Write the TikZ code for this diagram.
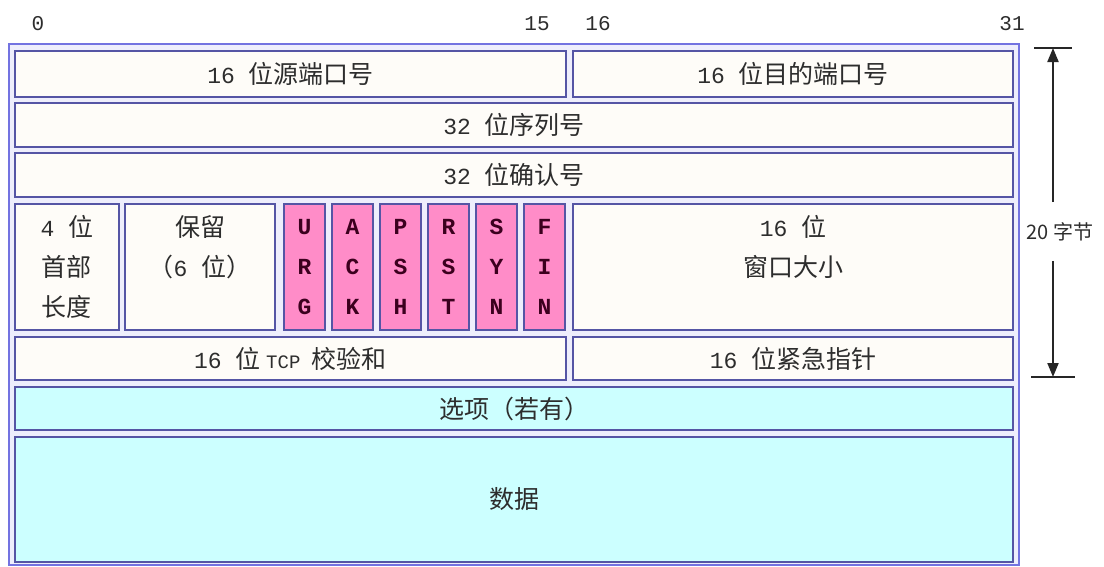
\documentclass[tikz,border=0pt]{standalone}
\usepackage{fontspec}
\setmainfont{Noto Sans CJK SC}
\newfontfamily\codefont{Liberation Mono}
\definecolor{frameblue}{RGB}{115,115,225}
\definecolor{framefill}{RGB}{238,238,252}
\definecolor{fieldedge}{RGB}{85,85,165}
\definecolor{fieldwhite}{RGB}{254,252,248}
\definecolor{flagpink}{RGB}{255,140,200}
\definecolor{flagink}{RGB}{60,0,30}
\definecolor{optcyan}{RGB}{204,255,255}
\definecolor{inkgray}{RGB}{45,45,45}
\usetikzlibrary{arrows.meta, positioning}
\newcommand{\dg}[1]{{\codefont\fontsize{23}{40}\selectfont #1}}
\tikzset{
  hdrframe/.style={draw=frameblue, fill=framefill, line width=2pt, inner sep=0pt},
  field/.style={draw=fieldedge, fill=fieldwhite, line width=1.8pt, inner sep=0pt, text=inkgray, align=center, font=\fontsize{25}{40}\selectfont},
  flagfield/.style={field, fill=flagpink, text=flagink, font=\codefont\bfseries\fontsize{23}{40}\selectfont, minimum width=41pt, minimum height=126pt},
  optfield/.style={field, fill=optcyan},
  bitlabel/.style={text=inkgray, font=\codefont\fontsize{21}{24}\selectfont},
  sizearrow/.style={-{Triangle[length=14pt,width=11pt]}, line width=2pt, black!85},
  sizebar/.style={line width=2pt, black!85},
}
\begin{document}
\begin{tikzpicture}[x=1pt, y=-1pt]
  \useasboundingbox (0,0) rectangle (1104,566);
  \node[hdrframe, minimum width=1010pt, minimum height=521pt] (hdr) at (514,304.5) {};
  \node[bitlabel] (b0) at (38,24) {0};
  \node[bitlabel] (b15) at (537,24) {15};
  \node[bitlabel] (b16) at (598,24) {16};
  \node[bitlabel] (b31) at (1012,24) {31};
  \node[field, minimum width=551pt, minimum height=46pt] (src) at (290.5,74) {\dg{16 }位源端口号};
  \node[field, minimum width=440pt, minimum height=46pt] (dst) at (793,74) {\dg{16 }位目的端口号};
  \node[field, minimum width=998pt, minimum height=44pt] (seq) at (514,125) {\dg{32 }位序列号};
  \node[field, minimum width=998pt, minimum height=44pt] (ack) at (514,175) {\dg{32 }位确认号};
  \node[field, minimum width=104pt, minimum height=126pt] (hlen) at (67,267) {\dg{4 }位\\首部\\长度};
  \node[field, minimum width=150pt, minimum height=126pt] (resv) at (200,267) {保留\\（\dg{6 }位）\\\phantom{位}};
  \foreach \f/\l [count=\k from 0] in {urg/U\\R\\G, ackf/A\\C\\K, psh/P\\S\\H, rst/R\\S\\T, syn/S\\Y\\N, fin/F\\I\\N}
    \node[flagfield] (\f) at ({304.5+48*\k},267) {\l};
  \node[field, minimum width=440pt, minimum height=126pt] (win) at (793,267) {\dg{16 }位\\窗口大小\\\phantom{位}};
  \node[field, minimum width=551pt, minimum height=43pt] (csum) at (290.5,358.5) {\dg{16 }位 {\codefont\fontsize{19}{40}\selectfont TCP }校验和};
  \node[field, minimum width=440pt, minimum height=43pt] (urgp) at (793,358.5) {\dg{16 }位紧急指针};
  \node[optfield, minimum width=998pt, minimum height=43pt] (opt) at (514,408.5) {选项（若有）};
  \node[optfield, minimum width=998pt, minimum height=125pt] (data) at (514,499.5) {数据};
  \node[text=inkgray, font=\fontsize{20}{24}\selectfont] (len) at (1060,232) {20 字节};
  \coordinate (topbar) at (1053,48);
  \coordinate (botbar) at (1053,377);
  \draw[sizearrow, shorten <=17pt] (len.north -| topbar) -- (topbar);
  \draw[sizearrow, shorten <=16pt] (len.south -| botbar) -- (botbar);
  \draw[sizebar] ([xshift=-19pt]topbar) -- ([xshift=19pt]topbar);
  \draw[sizebar] ([xshift=-22pt]botbar) -- ([xshift=22pt]botbar);
\end{tikzpicture}
\end{document}
